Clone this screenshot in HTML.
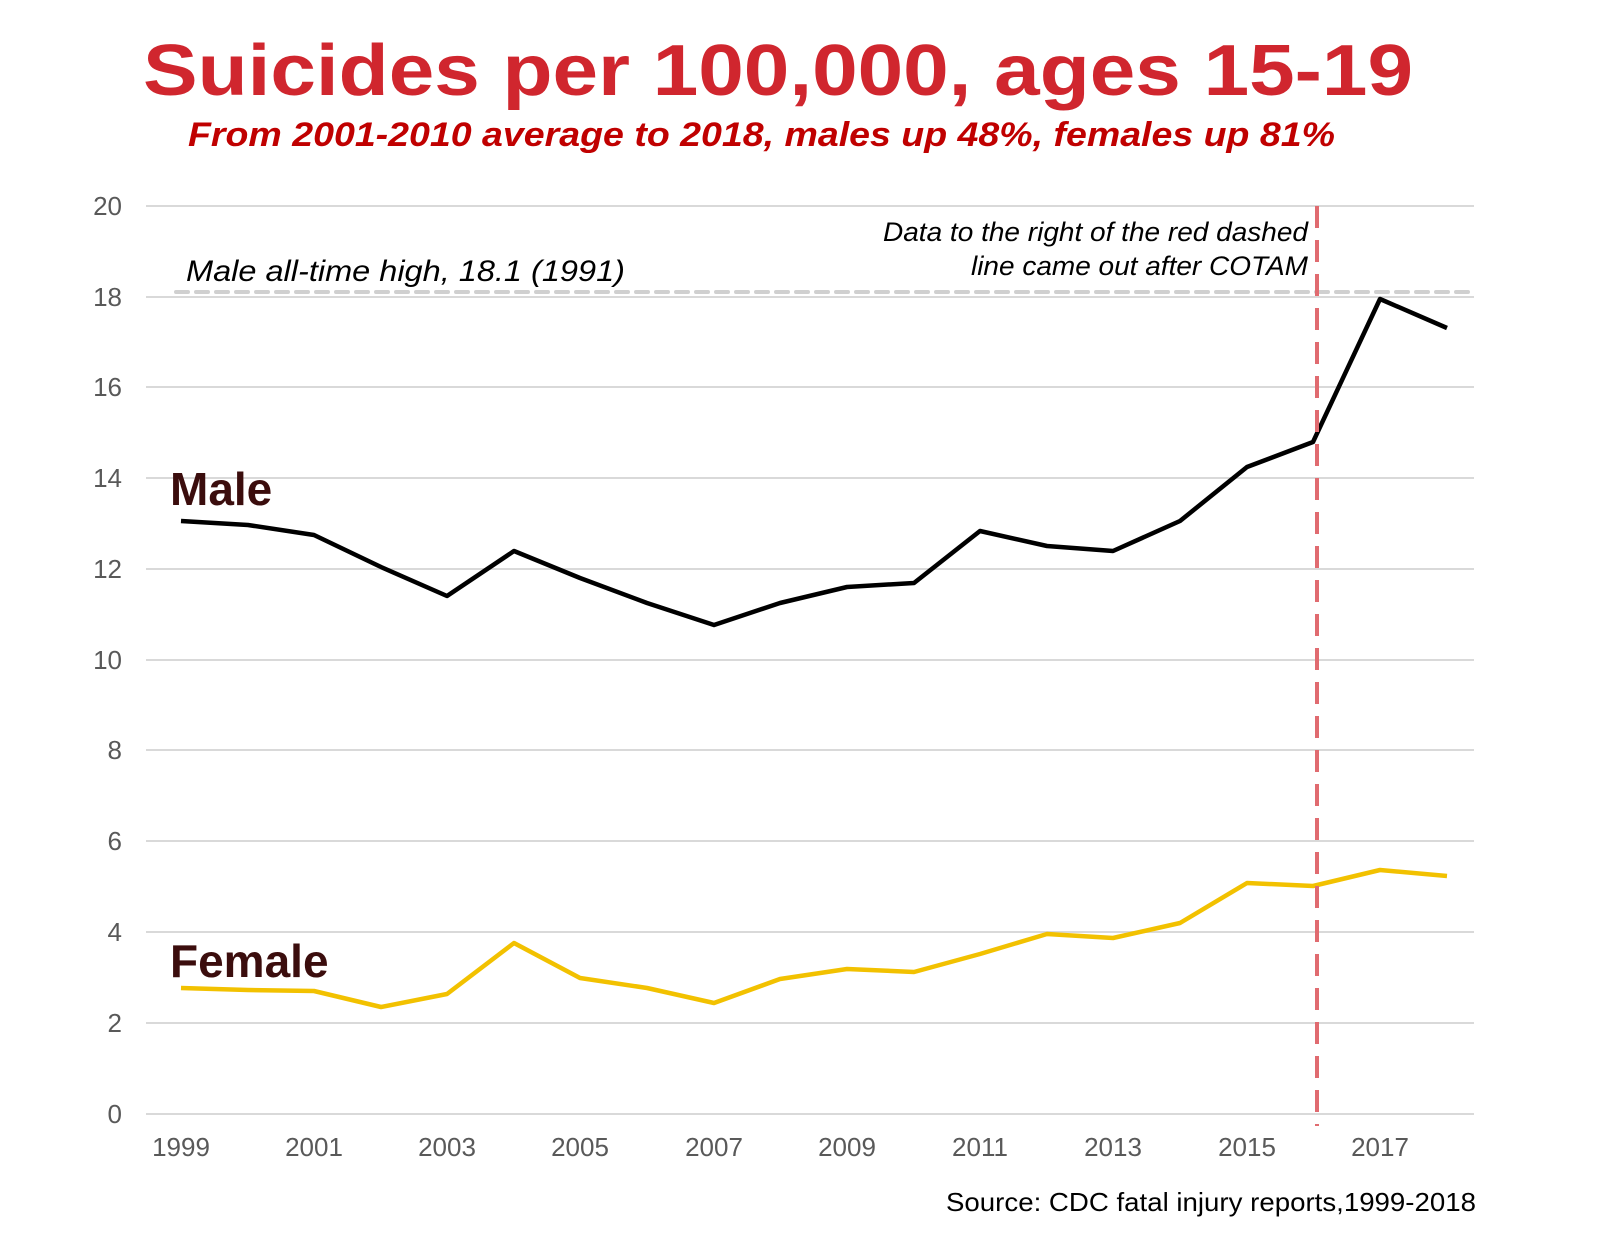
<!DOCTYPE html>
<html><head><meta charset="utf-8"><style>html,body{margin:0;padding:0;background:#fff}</style></head>
<body>
<svg width="1621" height="1236" viewBox="0 0 1621 1236" xmlns="http://www.w3.org/2000/svg" font-family="Liberation Sans, Arial, sans-serif">
<rect width="1621" height="1236" fill="#fff"/>
<text x="143" y="95" font-size="72" font-weight="bold" fill="#d0262e" textLength="1270" lengthAdjust="spacingAndGlyphs">Suicides per 100,000, ages 15-19</text>
<text x="188" y="146" font-size="34" font-weight="bold" font-style="italic" fill="#c00000" textLength="1147" lengthAdjust="spacingAndGlyphs">From 2001-2010 average to 2018, males up 48%, females up 81%</text>
<g stroke="#d9d9d9" stroke-width="2">
<line x1="146" x2="1474" y1="206" y2="206"/><line x1="146" x2="1474" y1="297" y2="297"/>
<line x1="146" x2="1474" y1="387" y2="387"/><line x1="146" x2="1474" y1="478" y2="478"/>
<line x1="146" x2="1474" y1="569" y2="569"/><line x1="146" x2="1474" y1="660" y2="660"/>
<line x1="146" x2="1474" y1="750" y2="750"/><line x1="146" x2="1474" y1="841" y2="841"/>
<line x1="146" x2="1474" y1="932" y2="932"/><line x1="146" x2="1474" y1="1023" y2="1023"/>
<line x1="146" x2="1474" y1="1114" y2="1114"/>
</g>
<g font-size="26" fill="#595959" text-anchor="end">
<text x="122" y="215">20</text><text x="122" y="306">18</text><text x="122" y="396">16</text>
<text x="122" y="487">14</text><text x="122" y="578">12</text><text x="122" y="669">10</text>
<text x="122" y="759">8</text><text x="122" y="850">6</text><text x="122" y="941">4</text>
<text x="122" y="1032">2</text><text x="122" y="1123">0</text>
</g>
<g font-size="26" fill="#595959" text-anchor="middle">
<text x="181" y="1156">1999</text><text x="314" y="1156">2001</text><text x="447" y="1156">2003</text>
<text x="580" y="1156">2005</text><text x="714" y="1156">2007</text><text x="847" y="1156">2009</text>
<text x="980" y="1156">2011</text><text x="1113" y="1156">2013</text><text x="1247" y="1156">2015</text>
<text x="1380" y="1156">2017</text>
</g>
<line x1="176" x2="1474" y1="292" y2="292" stroke="#d0d0d0" stroke-width="4" stroke-dasharray="12,8" stroke-linecap="round"/>
<text x="186" y="281" font-size="30" font-style="italic" fill="#000" textLength="439" lengthAdjust="spacingAndGlyphs">Male all-time high, 18.1 (1991)</text>
<g font-size="27" font-style="italic" fill="#000">
<text x="883" y="241" textLength="425" lengthAdjust="spacingAndGlyphs">Data to the right of the red dashed</text>
<text x="971" y="275" textLength="337" lengthAdjust="spacingAndGlyphs">line came out after COTAM</text>
</g>
<polyline fill="none" stroke="#000" stroke-width="4.5" stroke-linejoin="round" points="181,521 248,525 314,535 381,567 447,596 514,551 580,578 647,603 714,625 780,603 847,587 914,583 980,531 1047,546 1113,551 1180,521 1247,467 1313,442 1380,299 1447,328"/>
<polyline fill="none" stroke="#f2c100" stroke-width="4.5" stroke-linejoin="round" points="181,988 248,990 314,991 381,1007 447,994 514,943 580,978 647,988 714,1003 780,979 847,969 914,972 980,954 1047,934 1113,938 1180,923 1247,883 1313,886 1380,870 1447,876"/>
<line x1="1317" x2="1317" y1="206" y2="1126" stroke="#e06b70" stroke-width="4" stroke-dasharray="22,12"/>
<text x="170" y="505" font-size="46" font-weight="bold" fill="#3b0d0d">Male</text>
<text x="170" y="977" font-size="46" font-weight="bold" fill="#3b0d0d">Female</text>
<text x="946" y="1211" font-size="26" fill="#000" textLength="530" lengthAdjust="spacingAndGlyphs">Source: CDC fatal injury reports,1999-2018</text>
</svg>
</body></html>
